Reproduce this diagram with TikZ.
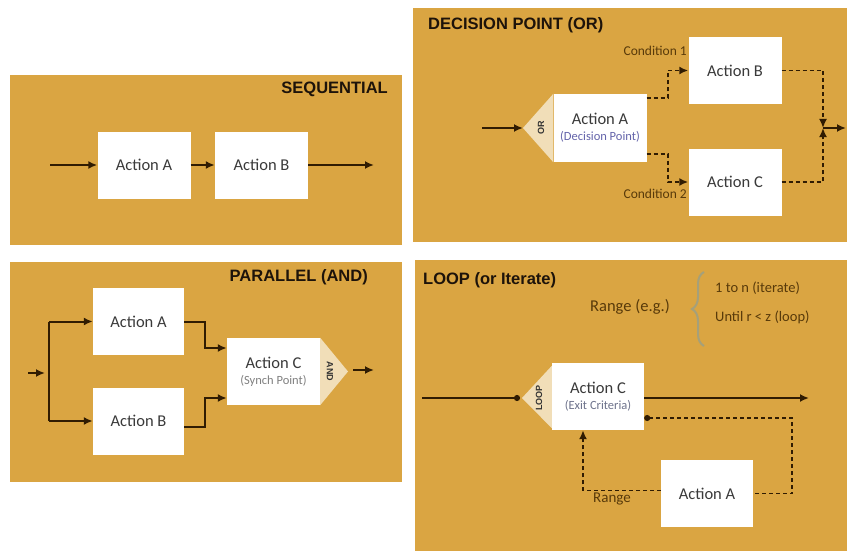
\documentclass[tikz,border=0pt]{standalone}
\usepackage{fontspec}
\setmainfont{Carlito}
\newfontfamily\titlefont{Liberation Sans}
\usetikzlibrary{arrows.meta,calc,decorations.pathreplacing}
\definecolor{gold}{RGB}{218,165,66}
\definecolor{lncol}{RGB}{48,28,2}
\definecolor{tricol}{RGB}{241,222,184}
\definecolor{txtcol}{RGB}{58,58,58}
\definecolor{labcol}{RGB}{88,58,10}
\definecolor{bracecol}{RGB}{165,160,122}
\newcommand\subfs{\fontsize{12.5}{13}\selectfont}
\tikzset{
  panel/.style={fill=gold, draw=none, inner sep=0pt, anchor=north west},
  actbox/.style={fill=white, draw=none, minimum width=93pt, minimum height=67pt, inner sep=0pt, align=center, text=txtcol, font=\fontsize{16.5}{18}\selectfont},
  ptitle/.style={font=\titlefont\bfseries\fontsize{16.5}{18}\selectfont, text=black!85!brown, inner sep=0pt},
  ln/.style={draw=lncol, line width=2pt},
  arr/.style={ln, -{Latex[length=9pt,width=8pt]}},
  dsh/.style={draw=lncol, line width=1.9pt, dash pattern=on 4pt off 3pt},
  darr/.style={dsh, -{Latex[length=9pt,width=8pt]}},
  tri/.style={fill=tricol, draw=none},
  trilab/.style={font=\titlefont\bfseries\fontsize{9}{10}\selectfont, text=black!80, inner sep=0pt},
  cond/.style={font=\fontsize{13.5}{15}\selectfont, text=labcol, inner sep=0pt},
}
\begin{document}
\begin{tikzpicture}[x=1pt,y=-1pt]
\useasboundingbox (0,0) rectangle (847,551);
\fill[white] (0,0) rectangle (847,551);
% panels
\node[panel, minimum width=392pt, minimum height=170pt] (p1) at (10,75) {};
\node[panel, minimum width=434pt, minimum height=234pt] (p2) at (413,8) {};
\node[panel, minimum width=392pt, minimum height=220pt] (p3) at (10,262) {};
\node[panel, minimum width=432pt, minimum height=291pt] (p4) at (415,260) {};
% titles
\node[ptitle, anchor=east] (t1) at (388,89) {SEQUENTIAL};
\node[ptitle, anchor=west] (t2) at (428,25) {DECISION POINT (OR)};
\node[ptitle, anchor=east] (t3) at (368,277) {PARALLEL (AND)};
\node[ptitle, anchor=west] (t4) at (423,280) {LOOP (or Iterate)};

% ---------- SEQUENTIAL
\node[actbox] (sA) at (144,165) {Action A};
\node[actbox] (sB) at (261.5,165) {Action B};
\coordinate (sin) at (50,165);
\coordinate (sout) at (374,165);
\draw[arr] (sin) -- (sA);
\draw[arr] (sA) -- (sB);
\draw[arr] (sB) -- (sout);

% ---------- DECISION
\node[actbox, minimum height=68pt] (dA) at (600,128) {Action A\\[-2pt]{\subfs\color[RGB]{100,100,170}(Decision Point)}};
\node[actbox] (dB) at (735,70.5) {Action B};
\node[actbox] (dC) at (735,182) {Action C};
\fill[tri] (dA.north west) -- (523,128) -- (dA.south west) -- cycle;
\node[trilab, rotate=90] (orl) at (541,128) {OR};
\coordinate (din) at (482,128);
\draw[arr] (din) -- (523,128);
\draw[darr] ([yshift=-4pt]dA.north east) -| ($(dB.west)+(-20,0)$) -- (dB.west);
\draw[darr] ([yshift=8pt]dA.south east) -| ($(dC.west)+(-20,0)$) -- (dC.west);
\node[cond, anchor=east] (c1) at (687,51) {Condition 1};
\node[cond, anchor=east] (c2) at (687,194) {Condition 2};
\coordinate (dj) at (823,128);
\coordinate (dout) at (846,128);
\draw[darr] (dB.east) -| (dj);
\draw[darr] (dC.east) -| (dj);
\draw[arr] (dj) -- (dout);

% ---------- PARALLEL
\node[actbox, minimum width=91pt] (pA) at (138.5,321.5) {Action A};
\node[actbox, minimum width=91pt] (pB) at (138.5,421) {Action B};
\node[actbox] (pC) at (273.5,371.5) {Action C\\[-2pt]{\subfs\color{gray}(Synch Point)}};
\fill[tri] (pC.north east) -- (348,371.5) -- (pC.south east) -- cycle;
\node[trilab, rotate=-90] (andl) at (330,371.5) {AND};
\coordinate (pin) at (28,373);
\coordinate (pinend) at (45,373);
\coordinate (ptA) at (49,321.5);
\coordinate (ptB) at (49,421);
\draw[arr] (pin) -- (pinend);
\draw[ln] (ptA) -- (ptB);
\draw[arr] (ptA) -- (pA.west);
\draw[arr] (ptB) -- (pB.west);
\draw[arr] (pA.east) -| ($([yshift=23.5pt]pC.west)+(-22,0)$) -- ([yshift=23.5pt]pC.west);
\draw[arr] ([yshift=-6pt]pB.east) -| ($([yshift=-26.5pt]pC.west)+(-22,0)$) -- ([yshift=-26.5pt]pC.west);
\coordinate (pos) at (353,370);
\coordinate (pout) at (374,370);
\draw[arr] (pos) -- (pout);

% ---------- LOOP
\node[cond, font=\fontsize{16.5}{18}\selectfont] (rng) at (630,307) {Range (e.g.)};
\draw[bracecol, line width=2pt, decorate, decoration={brace, amplitude=12pt}] (704,346) -- (704,272);
\node[cond, anchor=west, font=\fontsize{14.5}{16}\selectfont] (r1) at (715,288) {1 to n (iterate)};
\node[cond, anchor=west, font=\fontsize{14.5}{16}\selectfont] (r2) at (715,317) {Until r < z (loop)};
\node[actbox, minimum width=92pt] (lC) at (598,396.5) {Action C\\[-2pt]{\subfs\color[RGB]{110,115,140}(Exit Criteria)}};
\node[actbox, minimum width=92pt] (lA) at (707,493.5) {Action A};
\fill[tri] ([yshift=-3pt]lC.north west) -- (522,398) -- ([yshift=2pt]lC.south west) -- cycle;
\node[trilab, rotate=90] (loopl) at (539,398) {LOOP};
\coordinate (lin) at (422,398);
\coordinate (ldot) at (520,398);
\draw[ln, -{Circle[length=6pt]}] (lin) -- (ldot);
\coordinate (lout) at (809,398);
\draw[arr] ([yshift=-1.5pt]lC.east) -- (lout);
\draw[dsh, {Circle[length=6pt]}-] ([yshift=-21.5pt]lC.east) -- ++(148,0) |- (lA.east);
\draw[darr] ([yshift=3pt]lA.west) -| ([xshift=-15pt]lC.south);
\node[cond, font=\fontsize{15}{16}\selectfont] (rlab) at (612,499) {Range};
\end{tikzpicture}
\end{document}
